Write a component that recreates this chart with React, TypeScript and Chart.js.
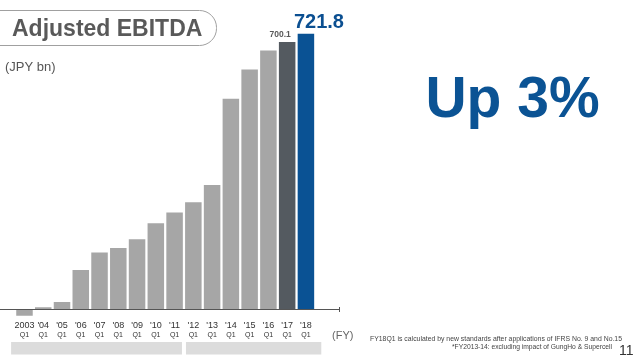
import React, { useEffect, useRef } from "react";
import { Chart, registerables } from "chart.js";

Chart.register(...registerables);

const years = ["2003", "'04", "'05", "'06", "'07", "'08", "'09", "'10", "'11", "'12", "'13", "'14", "'15", "'16", "'17", "'18"];
const quarterLabel = "Q1";
const ebitda = [-18, 4.5, 18, 102, 148, 160, 183, 225, 253, 280, 325, 551, 628, 678, 700.1, 721.8];
const barColors = ["#a6a6a6", "#a6a6a6", "#a6a6a6", "#a6a6a6", "#a6a6a6", "#a6a6a6", "#a6a6a6", "#a6a6a6", "#a6a6a6", "#a6a6a6", "#a6a6a6", "#a6a6a6", "#a6a6a6", "#a6a6a6", "#545a60", "#0a5294"];
const title = "Adjusted EBITDA";
const unitLabel = "(JPY bn)";
const headline = "Up 3%";
const footnote1 = "FY18Q1 is calculated by new standards after applications of IFRS No. 9 and No.15";
const footnote2 = "*FY2013-14: excluding impact of GungHo & Supercell";
const pageNumber = "11";
const FONT = "'Liberation Sans', Arial, sans-serif";

const overlay = {
  id: "overlay",
  afterDraw(chart: any) {
    const ctx = chart.ctx as CanvasRenderingContext2D;
    const x = chart.scales.x;
    const y = chart.scales.y;
    const y0 = y.getPixelForValue(0);
    const slot = x.getPixelForValue(1) - x.getPixelForValue(0);
    ctx.save();

    // title pill
    ctx.strokeStyle = "#a0a0a0";
    ctx.lineWidth = 1;
    ctx.beginPath();
    (ctx as any).roundRect(-20.5, 10.5, 237, 35, 17);
    ctx.stroke();
    ctx.fillStyle = "#595959";
    ctx.font = `bold 23px ${FONT}`;
    ctx.textAlign = "left";
    ctx.textBaseline = "alphabetic";
    ctx.fillText(title, 12, 36);

    ctx.fillStyle = "#555";
    ctx.font = `13px ${FONT}`;
    ctx.fillText(unitLabel, 5, 71);

    // axis line
    ctx.strokeStyle = "#555";
    ctx.lineWidth = 1;
    ctx.beginPath();
    ctx.moveTo(0, Math.round(y0) + 0.5);
    ctx.lineTo(339, Math.round(y0) + 0.5);
    ctx.moveTo(339.5, Math.round(y0) - 2);
    ctx.lineTo(339.5, Math.round(y0) + 3);
    ctx.stroke();

    // category labels
    ctx.textAlign = "center";
    ctx.textBaseline = "middle";
    years.forEach((lab, i) => {
      const cx = x.getPixelForValue(i);
      ctx.fillStyle = "#333";
      ctx.font = `9px ${FONT}`;
      ctx.fillText(lab, cx, 325.5);
      ctx.font = `7px ${FONT}`;
      ctx.fillText(quarterLabel, cx, 335.5);
    });

    // grey bands
    ctx.fillStyle = "#dcdcdc";
    const l0 = x.getPixelForValue(0) - slot / 2 - 4;
    const r8 = x.getPixelForValue(8) + slot / 2 - 2;
    ctx.fillRect(l0, 342, r8 - l0, 12.5);
    const l9 = x.getPixelForValue(9) - slot / 2 + 2;
    const r15 = x.getPixelForValue(15) + slot / 2 + 6;
    ctx.fillRect(l9, 342, r15 - l9, 12.5);

    ctx.fillStyle = "#666";
    ctx.font = `11px ${FONT}`;
    ctx.textAlign = "left";
    ctx.fillText("(FY)", 332, 336);

    // value labels
    const last = years.length - 1;
    ctx.textBaseline = "alphabetic";
    ctx.textAlign = "center";
    ctx.fillStyle = "#595959";
    ctx.font = `bold 8.5px ${FONT}`;
    ctx.fillText(ebitda[last - 1].toFixed(1), x.getPixelForValue(last - 1) - 7, y.getPixelForValue(ebitda[last - 1]) - 5.5);
    ctx.fillStyle = "#0b4f91";
    ctx.font = `bold 20px ${FONT}`;
    ctx.fillText(ebitda[last].toFixed(1), x.getPixelForValue(last) + 13, y.getPixelForValue(ebitda[last]) - 6);

    // headline
    ctx.fillStyle = "#0b5394";
    ctx.font = `bold 57px ${FONT}`;
    ctx.fillText(headline, 512.5, 116.5);

    // footnotes
    ctx.fillStyle = "#444";
    ctx.font = `7px ${FONT}`;
    ctx.textAlign = "left";
    ctx.textBaseline = "middle";
    ctx.fillText(footnote1, 370, 339, 252);
    ctx.textAlign = "right";
    ctx.fillText(footnote2, 612, 347.5, 160);
    ctx.font = `14px ${FONT}`;
    ctx.fillStyle = "#333";
    ctx.textAlign = "left";
    ctx.fillText(pageNumber, 619, 351);

    ctx.restore();
  },
};

export default function App() {
  const ref = useRef<HTMLCanvasElement>(null);
  useEffect(() => {
    if (!ref.current) return;
    const chart = new Chart(ref.current, {
      type: "bar",
      data: {
        labels: years,
        datasets: [
          {
            data: ebitda,
            backgroundColor: barColors,
            borderWidth: 0,
            categoryPercentage: 1,
            barPercentage: 0.88,
          },
        ],
      },
      options: {
        animation: false,
        responsive: false,
        maintainAspectRatio: false,
        layout: { padding: { left: 15.1, right: 322.7, top: 26.8, bottom: 38.6 } },
        plugins: { legend: { display: false }, tooltip: { enabled: false }, title: { display: false } },
        scales: {
          x: { display: false },
          y: { display: false, min: -30, max: 740 },
        },
      },
      plugins: [overlay],
    });
    return () => chart.destroy();
  }, []);
  return (
    <div style={{ position: "fixed", left: 0, top: 0, width: 638, height: 359, background: "#fff" }}>
      <canvas ref={ref} width={638} height={359} style={{ display: "block" }} />
    </div>
  );
}
